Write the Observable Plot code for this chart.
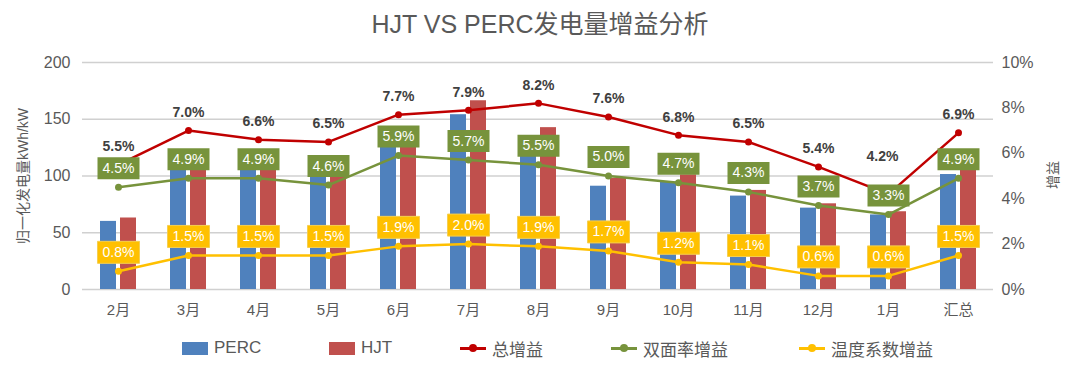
<!DOCTYPE html>
<html><head><meta charset="utf-8">
<script src="https://cdn.jsdelivr.net/npm/d3@7"></script>
<script src="https://cdn.jsdelivr.net/npm/@observablehq/plot@0.6"></script>
<style>
body{margin:0;background:#fff;font-family:"Liberation Sans","Noto Sans CJK SC",sans-serif;}
#wrap{width:1080px;height:370px;position:relative;overflow:hidden;}
#title{position:absolute;top:4px;left:0;width:1080px;text-align:center;font-size:25px;color:#595959;}
#chart{position:absolute;top:45px;left:0;}
.axt{position:absolute;font-size:14px;color:#595959;white-space:nowrap;transform:translate(-50%,-50%) rotate(-90deg);}
.lg{position:absolute;top:338px;font-size:17px;color:#595959;display:flex;align-items:center;height:20px;}
.sw{display:inline-block;width:26px;height:13px;margin-right:6px;}
.ln{display:inline-block;width:26px;height:3px;margin-right:6px;position:relative;}
.ln i{position:absolute;left:9px;top:-2.5px;width:8px;height:8px;border-radius:50%;}
</style></head>
<body>
<div id="wrap">
  <div id="title">HJT VS PERC发电量增益分析</div>
  <div id="chart"></div>
  <div class="axt" style="left:22px;top:176px;">归一化发电量kWh/kW</div>
  <div class="axt" style="left:1052px;top:175px;">增益</div>
  <div class="lg" style="left:182px;"><span class="sw" style="background:#4F81BD"></span>PERC</div>
  <div class="lg" style="left:329px;"><span class="sw" style="background:#C0504D"></span>HJT</div>
  <div class="lg" style="left:460px;"><span class="ln" style="background:#C00000"><i style="background:#C00000"></i></span>总增益</div>
  <div class="lg" style="left:611px;"><span class="ln" style="background:#77933C"><i style="background:#77933C"></i></span>双面率增益</div>
  <div class="lg" style="left:799px;"><span class="ln" style="background:#FFC000"><i style="background:#FFC000"></i></span>温度系数增益</div>
</div>
<script>
const months = ["2月","3月","4月","5月","6月","7月","8月","9月","10月","11月","12月","1月","汇总"];
const perc = [60, 107, 106, 101, 128, 154, 132, 91, 94.6, 82.3, 71.7, 65.7, 101.3];
const hjt = [63, 114.5, 113, 107.6, 138, 166.3, 142.6, 98, 101, 87.3, 75.5, 68.5, 108.3];
const totalGain = [5.5, 7.0, 6.6, 6.5, 7.7, 7.9, 8.2, 7.6, 6.8, 6.5, 5.4, 4.2, 6.9];
const bifacialGain = [4.5, 4.9, 4.9, 4.6, 5.9, 5.7, 5.5, 5.0, 4.7, 4.3, 3.7, 3.3, 4.9];
const tempGain = [0.8, 1.5, 1.5, 1.5, 1.9, 2.0, 1.9, 1.7, 1.2, 1.1, 0.6, 0.6, 1.5];
const leftTicks = [0, 50, 100, 150, 200];
const rightTicks = [0, 2, 4, 6, 8, 10];

const K = 20; // 10% maps to 200 on the left scale
const rows = months.map((m, i) => ({m, perc: perc[i], hjt: hjt[i], t: totalGain[i], b: bifacialGain[i], tc: tempGain[i]}));
const fmt = v => v.toFixed(1) + "%";
const boxSym = {draw(ctx) { ctx.rect(-21, -11, 42, 22); }};

const plot = Plot.plot({
  width: 1080, height: 280,
  marginLeft: 82, marginRight: 87, marginTop: 17, marginBottom: 36,
  style: {fontFamily: '"Liberation Sans","Noto Sans CJK SC",sans-serif', fontSize: "16px", color: "#595959", background: "transparent"},
  x: {domain: months, padding: 0},
  y: {domain: [0, 200]},
  marks: [
    Plot.ruleY(leftTicks, {stroke: "#d0d0d0", strokeWidth: 1.5}),
    Plot.axisY({ticks: leftTicks, tickSize: 0, tickPadding: 12, label: null, fontSize: 16}),
    Plot.axisY({anchor: "right", ticks: rightTicks.map(d => d * K), tickFormat: d => (d / K) + "%", tickSize: 0, tickPadding: 8, label: null, fontSize: 16}),
    Plot.axisX({tickSize: 0, tickPadding: 15, label: null, fontSize: 15}),
    Plot.barY(rows, {x: "m", y: "perc", fill: "#4F81BD", insetLeft: 17, insetRight: 37}),
    Plot.barY(rows, {x: "m", y: "hjt", fill: "#C0504D", insetLeft: 37, insetRight: 17}),
    Plot.line(rows, {x: "m", y: d => d.tc * K, stroke: "#FFC000", strokeWidth: 2.5}),
    Plot.dot(rows, {x: "m", y: d => d.tc * K, fill: "#FFC000", r: 3.5}),
    Plot.line(rows, {x: "m", y: d => d.b * K, stroke: "#77933C", strokeWidth: 2.5}),
    Plot.dot(rows, {x: "m", y: d => d.b * K, fill: "#77933C", r: 3.5}),
    Plot.line(rows, {x: "m", y: d => d.t * K, stroke: "#C00000", strokeWidth: 2.5}),
    Plot.dot(rows, {x: "m", y: d => d.t * K, fill: "#C00000", r: 3.5}),
    Plot.dot(rows, {x: "m", y: d => d.tc * K, symbol: boxSym, fill: "#FFC000", stroke: "#F5CF50", strokeWidth: 1, dy: -19}),
    Plot.text(rows, {x: "m", y: d => d.tc * K, text: d => fmt(d.tc), fill: "white", fontSize: 14, dy: -19}),
    Plot.dot(rows, {x: "m", y: d => d.b * K, symbol: boxSym, fill: "#77933C", dy: -19}),
    Plot.text(rows, {x: "m", y: d => d.b * K, text: d => fmt(d.b), fill: "white", fontSize: 14, dy: -19}),
    Plot.text(rows.filter(d => d.m !== "1月"), {x: "m", y: d => d.t * K, text: d => fmt(d.t), fill: "#404040", fontWeight: "bold", fontSize: 14, dy: -18}),
    Plot.text(rows.filter(d => d.m === "1月"), {x: "m", y: d => d.t * K, text: d => fmt(d.t), fill: "#404040", fontWeight: "bold", fontSize: 14, dy: -38, dx: -6})
  ]
});
document.getElementById("chart").appendChild(plot);
</script>
</body></html>
